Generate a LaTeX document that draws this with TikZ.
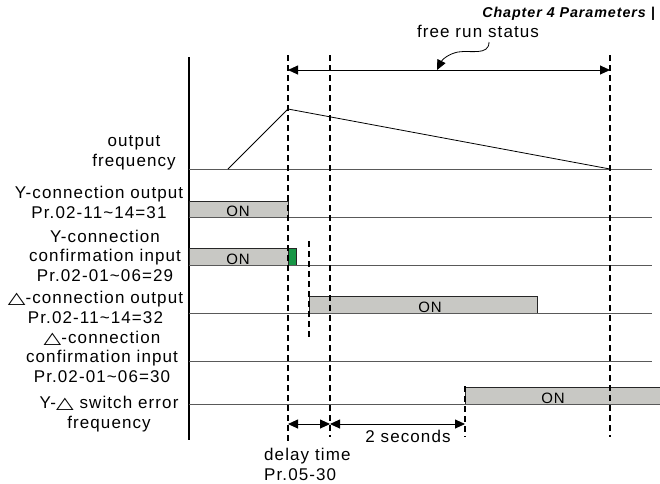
\documentclass[tikz,border=0pt]{standalone}
\usepackage{graphicx}
\usepackage{fontspec}
\setmainfont{Liberation Sans}[LetterSpace=6.5]
\newfontfamily\symfont{DejaVu Sans}
\usetikzlibrary{arrows.meta}

\newcommand{\deltri}{\scalebox{1.35}[0.95]{\symfont\char"25B3}}

\definecolor{ongrey}{RGB}{200,200,196}
\definecolor{okgreen}{RGB}{24,150,70}

\tikzset{
    lbl/.style={align=center, font=\fontsize{17}{19.5}\selectfont, inner sep=0pt, anchor=base},
    ontext/.style={font=\fontsize{15}{15}\selectfont, inner sep=0pt, anchor=base},
    sigline/.style={line width=1pt, draw=black!65},
    onbox/.style={line width=1pt, draw=black!85},
    markline/.style={line width=1.6pt, dash pattern=on 6pt off 4pt},
    dimarrow/.style={line width=0.9pt, {Triangle[length=10pt,width=9pt]}-{Triangle[length=10pt,width=9pt]}},
}

\begin{document}
\begin{tikzpicture}[x=1pt, y=-1pt, line join=miter]
            \useasboundingbox (0,0) rectangle (660,483);

            % Header
            \node[font=\fontsize{14.3}{14.3}\selectfont\bfseries\itshape, anchor=base east, inner sep=0pt] (chap) at (655,17) {Chapter 4 Parameters |};

            % Time marks
            \coordinate (t0) at (288,0);
            \coordinate (t1) at (330,0);
            \coordinate (t2) at (610,0);
            \coordinate (t3) at (309,0);
            \coordinate (t4) at (465,0);

            % Vertical axis
            \draw[line width=1.2pt] (189,57) -- (189,440);

            % Draw the baselines of the signals
            \foreach \y in {169, 217, 265, 313, 361, 404} {
                \draw[sigline] (189,\y) -- (652,\y);
            }

            % ON boxes
            \fill[ongrey] (189,201) rectangle (288,217);
            \fill[ongrey] (189,248) rectangle (288,265);
            \fill[okgreen] (288,248) rectangle (296,265);
            \fill[ongrey] (309,296) rectangle (537,313);
            \fill[ongrey] (465,387) rectangle (660,404);
            \draw[onbox] (189,217) -- (189,201) -- (288,201) -- (288,217);
            \draw[onbox] (189,265) -- (189,248) -- (288,248) -- (288,265);
            \draw[onbox] (288,265) -- (288,248) -- (296,248) -- (296,265);
            \draw[onbox] (309,313) -- (309,296) -- (537,296) -- (537,313);
            \draw[onbox] (465,404) -- (465,387) -- (660,387);
            \draw[sigline] (465,404) -- (660,404);

            \node[ontext] (on1) at (238,216) {ON};
            \node[ontext] (on2) at (238,264) {ON};
            \node[ontext] (on3) at (430,312) {ON};
            \node[ontext] (on4) at (553,403) {ON};

            % Output frequency curve
            \draw[line width=0.8pt] (228,169) -- (288,109) -- (610,169);

            % Dashed time marks
            \draw[markline] (t0 |- 0,55) -- (t0 |- 0,443);
            \draw[markline] (t1 |- 0,55) -- (t1 |- 0,437);
            \draw[markline] (t2 |- 0,55) -- (t2 |- 0,437);
            \draw[markline] (t3 |- 0,241) -- (t3 |- 0,339);
            \draw[markline] (t4 |- 0,386) -- (t4 |- 0,437);

            % Dimension arrows
            \coordinate (fr0) at (t0 |- 0,70);
            \coordinate (fr1) at (t2 |- 0,70);
            \draw[dimarrow] (fr0) -- (fr1);
            \coordinate (d0) at (t0 |- 0,424);
            \coordinate (d1) at (t1 |- 0,424);
            \coordinate (d2) at (t4 |- 0,424);
            \draw[dimarrow] (d0) -- (d1);
            \draw[dimarrow] (d1) -- (d2);

            % Free run label with its curly pointer
            \node[lbl] (free) at (478,37) {free run status};
            \coordinate (freetip) at (437,70);
            \draw[line width=0.8pt, -{Triangle[length=10pt,width=9pt]}] (489,42) .. controls (489,56) and (470,50) .. (458,52) .. controls (448,54) and (442,60) .. (freetip);

            % Signal names (anchored at the last line)
            \node[lbl] (ofreq) at (134,166) {output\\frequency};
            \node[lbl] (yout) at (99,218) {Y-connection output\\Pr.02-11\textasciitilde14=31};
            \node[lbl] (yconf) at (105,281) {Y-connection\\confirmation input\\Pr.02-01\textasciitilde06=29};
            \node[lbl] (dout) at (95.5,323) {\deltri-connection output\\Pr.02-11\textasciitilde14=32};
            \node[lbl] (dconf) at (102,382) {\deltri-connection\\confirmation input\\Pr.02-01\textasciitilde06=30};
            \node[lbl] (yderr) at (109,428) {Y-\deltri{} switch error\\frequency};

            % Time labels
            \node[lbl] (two) at (408,442) {2 seconds};
            \node[lbl, align=left, anchor=base west] (delay) at (264,480) {delay time\\Pr.05-30};
\end{tikzpicture}
\end{document}
